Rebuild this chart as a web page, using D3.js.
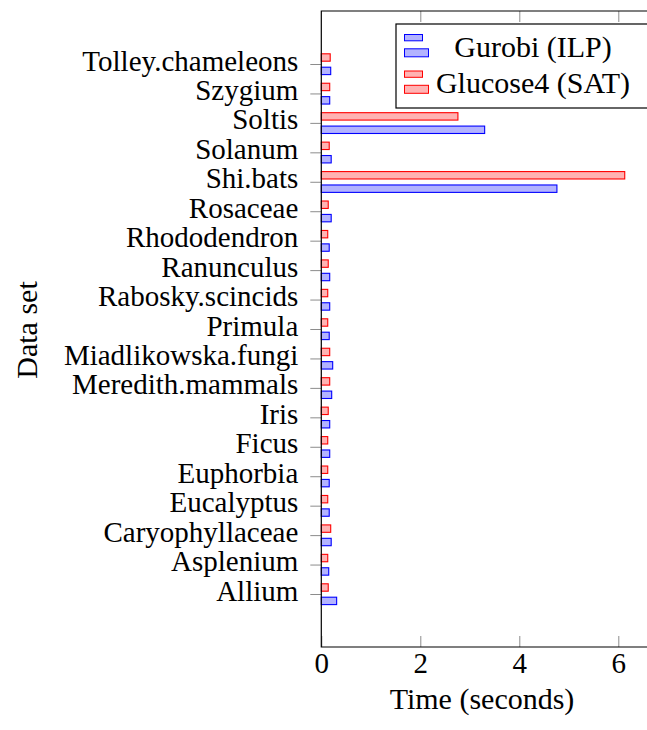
<!DOCTYPE html>
<html>
<head>
<meta charset="utf-8">
<script src="https://cdn.jsdelivr.net/npm/d3@7"></script>
<style>
  body { margin: 0; background: #fff; }
  svg text { font-family: "Liberation Serif", "Times New Roman", serif; fill: #000; }
</style>
</head>
<body>
<div id="chart"></div>
<script>
// data sets, listed bottom to top as they appear on the y axis
var categories = ["Allium", "Asplenium", "Caryophyllaceae", "Eucalyptus", "Euphorbia",
    "Ficus", "Iris", "Meredith.mammals", "Miadlikowska.fungi", "Primula",
    "Rabosky.scincids", "Ranunculus", "Rhododendron", "Rosaceae", "Shi.bats",
    "Solanum", "Soltis", "Szygium", "Tolley.chameleons"];

// running times in seconds
var gurobi = [0.31, 0.15, 0.20, 0.16, 0.16, 0.17, 0.17, 0.21, 0.23, 0.16,
    0.17, 0.17, 0.16, 0.20, 4.76, 0.20, 3.30, 0.17, 0.19];
var glucose = [0.14, 0.13, 0.19, 0.13, 0.13, 0.13, 0.14, 0.17, 0.17, 0.13,
    0.13, 0.14, 0.13, 0.14, 6.13, 0.16, 2.76, 0.17, 0.18];

var xTicks = [0, 2, 4, 6];
var seriesNames = ["Gurobi (ILP)", "Glucose4 (SAT)"];

//// SETTINGS ////////////////////////////////////////////////////////////////
var width = 647, height = 730;
var fontSize = 30,
    tickFontSize = 29;
var tickColor = "#8c8c8c";

var blue = { stroke: "#0000ff", fill: "#b3b3ff" },
    red = { stroke: "#ff0000", fill: "#ffb3b3" };

var svg = d3.select("#chart").append("svg")
    .attr("width", width)
    .attr("height", height);

var x = d3.scaleLinear().domain([0, 6]).range([321.3, 618.3]);
var y = d3.scaleLinear().domain([-1.8, categories.length - 1 + 1.8]).range([647, 11]);

var plotLeft = x(0), plotTop = 11, plotBottom = 647, plotRight = x(6.9);

//// AXES ////////////////////////////////////////////////////////////////////
var yAxis = svg.append("g")
    .attr("transform", "translate(" + plotLeft + ",0)")
    .call(d3.axisLeft(y)
        .tickValues(d3.range(categories.length))
        .tickFormat(function(i) { return categories[i]; })
        .tickSize(11)
        .tickPadding(12));
yAxis.select(".domain").remove();
yAxis.selectAll("line").attr("stroke", tickColor);
yAxis.selectAll("text")
    .attr("font-family", null)
    .style("font-size", tickFontSize + "px")
    .attr("dy", "6");

var xAxis = svg.append("g")
    .attr("transform", "translate(0," + plotBottom + ")")
    .call(d3.axisBottom(x).tickValues(xTicks).tickFormat(d3.format("d")).tickSize(-11));
xAxis.select(".domain").remove();
xAxis.selectAll("line").attr("stroke", tickColor);
xAxis.selectAll("text")
    .attr("font-family", null)
    .style("font-size", tickFontSize + "px")
    .attr("y", 26)
    .attr("dy", null);

var xAxisTop = svg.append("g")
    .attr("transform", "translate(0," + plotTop + ")")
    .call(d3.axisTop(x).tickValues(xTicks.slice(1)).tickSize(-11).tickFormat(""));
xAxisTop.select(".domain").remove();
xAxisTop.selectAll("line").attr("stroke", tickColor);

//// BARS ////////////////////////////////////////////////////////////////////
var barH = 7.4;

function drawSeries(values, colors, offset) {
    svg.append("g").selectAll("rect")
        .data(values)
        .enter().append("rect")
        .attr("x", x(0))
        .attr("y", function(d, i) { return y(i) + offset; })
        .attr("width", function(d) { return x(d) - x(0); })
        .attr("height", barH)
        .attr("fill", colors.fill)
        .attr("stroke", colors.stroke)
        .attr("stroke-width", 1.1);
}

drawSeries(glucose, red, -10.2);
drawSeries(gurobi, blue, 3.2);

// axis frame (left, top, bottom); right edge runs off the page
svg.append("path")
    .attr("d", "M" + plotRight + "," + plotTop + "H" + plotLeft + "V" + plotBottom + "H" + plotRight)
    .attr("fill", "none")
    .attr("stroke", "#000")
    .attr("stroke-width", 1.2);

//// LABELS //////////////////////////////////////////////////////////////////
svg.append("text")
    .attr("x", 482)
    .attr("y", 709)
    .attr("text-anchor", "middle")
    .style("font-size", fontSize + "px")
    .text("Time (seconds)");

svg.append("text")
    .attr("transform", "translate(37,330) rotate(-90)")
    .attr("text-anchor", "middle")
    .style("font-size", fontSize + "px")
    .text("Data set");

//// LEGEND //////////////////////////////////////////////////////////////////
var legend = svg.append("g");
legend.append("rect")
    .attr("x", 396).attr("y", 24)
    .attr("width", 300).attr("height", 84)
    .attr("fill", "#fff")
    .attr("stroke", "#000")
    .attr("stroke-width", 1.2);

[blue, red].forEach(function(c, k) {
    var top = 34 + k * 36.5;
    legend.append("rect")
        .attr("x", 404.5).attr("y", top + 0.5)
        .attr("width", 18).attr("height", 6.3)
        .attr("fill", c.fill).attr("stroke", c.stroke);
    legend.append("rect")
        .attr("x", 404.5).attr("y", top + 14.8)
        .attr("width", 24).attr("height", 8)
        .attr("fill", c.fill).attr("stroke", c.stroke);
    legend.append("text")
        .attr("x", 533)
        .attr("y", 56.7 + k * 36.3)
        .attr("text-anchor", "middle")
        .style("font-size", fontSize + "px")
        .text(seriesNames[k]);
});
</script>
</body>
</html>
